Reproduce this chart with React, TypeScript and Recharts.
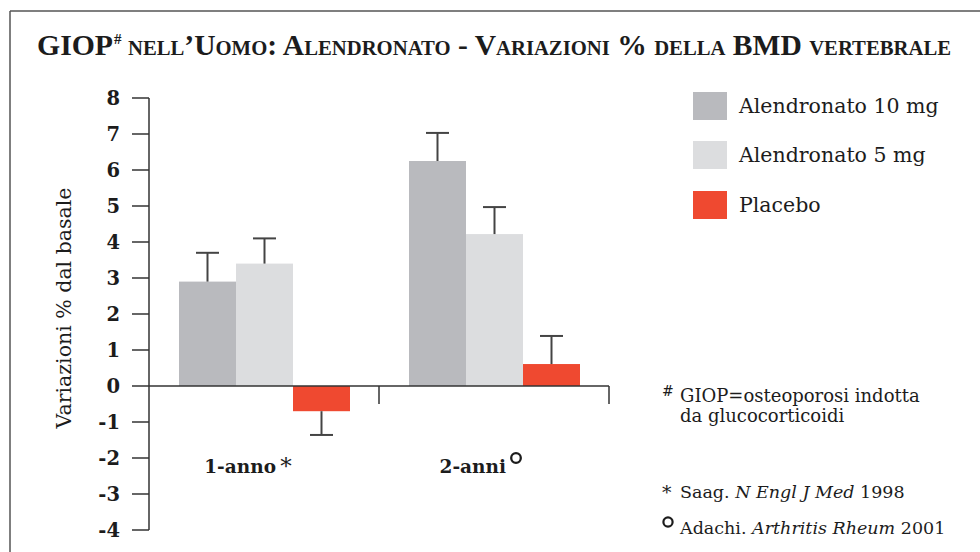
import React from 'react';
import { BarChart, Bar, XAxis, YAxis, ReferenceLine, Legend } from 'recharts';

// values (% change from baseline)
const categories = ['1-anno', '2-anni'];
const categoryMarks = ['asterisk', 'circle'];
const alendronato10 = [2.9, 6.25];
const alendronato10Err = [0.8, 0.78];
const alendronato5 = [3.4, 4.22];
const alendronato5Err = [0.7, 0.75];
const placebo = [-0.7, 0.61];
const placeboErr = [0.66, 0.78];
const yTicks = [-4, -3, -2, -1, 0, 1, 2, 3, 4, 5, 6, 7, 8];

const SERIF = '"DejaVu Serif", serif';
const TITLE_FONT = '"Liberation Serif", serif';
const INK = '#1c1c1c';
const W = 980;
const H = 552;
const M = { top: 98, right: 371, bottom: 0, left: 0 };
const Y_AXIS_W = 149;
const X_AXIS_H = 22;
const Y_MIN = -4;
const Y_MAX = 8;
const PLOT_H = H - M.top - M.bottom - X_AXIS_H;
const zeroY = M.top + (PLOT_H * Y_MAX) / (Y_MAX - Y_MIN);

const series = [
  { key: 'a10', name: 'Alendronato 10 mg', color: '#b9babe', values: alendronato10, errs: alendronato10Err },
  { key: 'a5', name: 'Alendronato 5 mg', color: '#dcdddf', values: alendronato5, errs: alendronato5Err },
  { key: 'pl', name: 'Placebo', color: '#ef4930', values: placebo, errs: placeboErr },
];

const data = categories.map((cat, i) => {
  const row: any = { cat, mark: categoryMarks[i] };
  series.forEach((s) => {
    row[s.key] = s.values[i];
    row[s.key + 'Err'] = s.errs[i];
  });
  return row;
});

// bar + one-sided whisker, length derived from the bar's own pixel scale
function barWithWhisker(key: string) {
  return (props: any) => {
    const { x, y, width, height, fill, payload } = props;
    const v = payload[key];
    const e = payload[key + 'Err'];
    const top = Math.min(y, y + height);
    const bottom = Math.max(y, y + height);
    const h = bottom - top;
    const ppu = v !== 0 ? h / Math.abs(v) : 0;
    const end = v >= 0 ? top : bottom;
    const tip = v >= 0 ? end - e * ppu : end + e * ppu;
    const cx = x + width / 2;
    return (
      <g>
        <rect x={x} y={top} width={width} height={h} fill={fill} />
        <line x1={cx} y1={end} x2={cx} y2={tip} stroke="#444" strokeWidth={2} />
        <line x1={cx - 11.5} y1={tip} x2={cx + 11.5} y2={tip} stroke="#444" strokeWidth={2} />
      </g>
    );
  };
}

const CategoryTick = (props: any) => {
  const { x, payload, index } = props;
  const half = payload && payload.offset ? payload.offset : (W - M.right - Y_AXIS_W) / categories.length / 2;
  const mark = data[index] ? data[index].mark : '';
  const textEnd = x + 12;
  return (
    <g>
      <line x1={x + half} y1={zeroY} x2={x + half} y2={zeroY + 18} stroke="#333" strokeWidth={1.5} />
      <text x={textEnd} y={zeroY + 87} textAnchor="end" fontFamily={SERIF} fontWeight="bold" fontSize={18.5} fill={INK}>
        {payload.value}
      </text>
      {mark === 'asterisk' && (
        <text x={textEnd + 10} y={zeroY + 88} textAnchor="middle" fontFamily={SERIF} fontSize={23} fill={INK}>*</text>
      )}
      {mark === 'circle' && (
        <circle cx={textEnd + 10} cy={zeroY + 72} r={4.8} fill="none" stroke={INK} strokeWidth={2.3} />
      )}
    </g>
  );
};

const YLabel = (props: any) => {
  const vb = props.viewBox || { x: 0, y: M.top, width: Y_AXIS_W, height: PLOT_H };
  const cy = vb.y + vb.height / 2 - 6;
  const lx = vb.x + 71;
  return (
    <text x={lx} y={cy} transform={`rotate(-90 ${lx} ${cy})`} textAnchor="middle" fontFamily={SERIF} fontSize={20.5} fill={INK}>
      Variazioni % dal basale
    </text>
  );
};

const LegendContent = (props: any) => (
  <div>
    {(props.payload || []).map((p: any) => (
      <div key={p.value} style={{ display: 'flex', alignItems: 'center', height: 49.5 }}>
        <span style={{ display: 'inline-block', width: 34, height: 28, background: p.color, marginRight: 12 }} />
        <span style={{ fontFamily: SERIF, fontSize: 20.5, color: INK }}>{p.value}</span>
      </div>
    ))}
  </div>
);

export default function App() {
  return (
    <div style={{ position: 'absolute', left: 0, top: 0, width: W, height: H, background: '#fff', overflow: 'hidden' }}>
      <BarChart width={W} height={H} data={data} margin={M} barCategoryGap={30} barGap={0}>
        <XAxis dataKey="cat" axisLine={false} tickLine={false} height={X_AXIS_H} interval={0} tick={(p: any) => <CategoryTick {...p} />} />
        <YAxis
          type="number"
          domain={[Y_MIN, Y_MAX]}
          ticks={yTicks}
          interval={0}
          width={Y_AXIS_W}
          tickSize={17}
          tickMargin={12}
          axisLine={{ stroke: '#333', strokeWidth: 1.5 }}
          tickLine={{ stroke: '#333', strokeWidth: 1.5 }}
          tick={{ fill: INK, fontFamily: SERIF, fontWeight: 'bold', fontSize: 19.5 }}
          label={{ content: YLabel }}
        />
        {series.map((s) => (
          <Bar key={s.key} dataKey={s.key} name={s.name} fill={s.color} isAnimationActive={false} shape={barWithWhisker(s.key)} />
        ))}
        <ReferenceLine y={0} stroke="#333" strokeWidth={1.5} />
        <Legend
          layout="vertical"
          align="center"
          verticalAlign="middle"
          wrapperStyle={{ left: 693, top: 81, width: 280 }}
          content={LegendContent}
        />
      </BarChart>

      <svg width={W} height={H} style={{ position: 'absolute', left: 0, top: 0, pointerEvents: 'none' }}>
        <line x1={10} y1={11} x2={W} y2={11} stroke="#555" strokeWidth={1.5} />
        <line x1={10} y1={11} x2={10} y2={H} stroke="#555" strokeWidth={1.5} />

        <g fontFamily={TITLE_FONT} fontWeight="bold" fill={INK} style={{ fontVariant: 'small-caps' }}>
          <text x={37} y={55} fontSize={30} textLength={76} lengthAdjust="spacingAndGlyphs">GIOP</text>
          <text x={114} y={44} fontSize={15}>#</text>
          <text x={128} y={55} fontSize={30} textLength={823} lengthAdjust="spacingAndGlyphs">
            nell’Uomo: Alendronato - Variazioni % della BMD vertebrale
          </text>
        </g>

        <g fontFamily={SERIF} fill={INK}>
          <text x={662} y={396} fontSize={14}>#</text>
          <text x={680} y={402} fontSize={18}>GIOP=osteoporosi indotta</text>
          <text x={680} y={422} fontSize={18}>da glucocorticoidi</text>

          <text x={662} y={499} fontSize={19}>*</text>
          <text x={680} y={498} fontSize={17.5}>
            Saag. <tspan fontStyle="italic">N Engl J Med</tspan> 1998
          </text>

          <circle cx={668} cy={522} r={4.6} fill="none" stroke={INK} strokeWidth={2.2} />
          <text x={680} y={534} fontSize={17.5}>
            Adachi. <tspan fontStyle="italic">Arthritis Rheum</tspan> 2001
          </text>
        </g>
      </svg>
    </div>
  );
}
